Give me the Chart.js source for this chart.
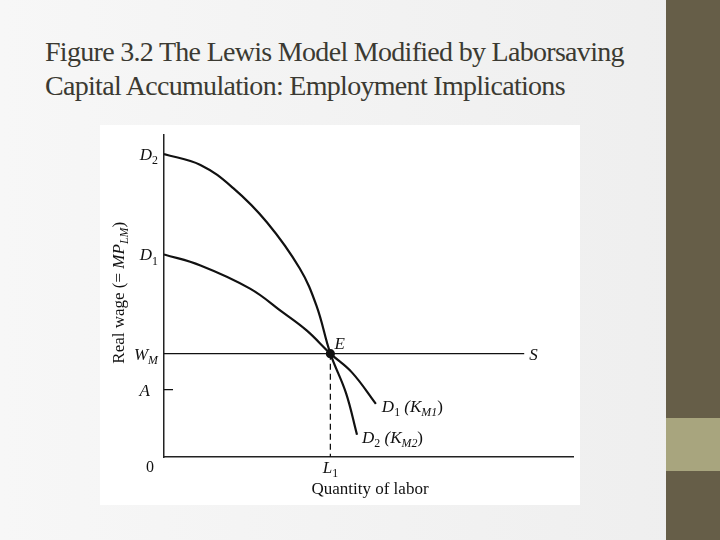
<!DOCTYPE html>
<html>
<head>
<meta charset="utf-8">
<script src="https://cdn.jsdelivr.net/npm/chart.js@4/dist/chart.umd.min.js"></script>
<style>
  body { margin: 0; width: 720px; height: 540px; overflow: hidden;
         background: linear-gradient(90deg, #f7f7f7, #eeeeee); position: relative; }
  #title { position: absolute; left: 45px; top: 35px; font-family: "Liberation Serif", serif;
           font-size: 28px; line-height: 34px; color: #3b3a32; letter-spacing: -0.7px; }
  #band { position: absolute; left: 666px; top: 0; width: 54px; height: 540px; background: #665e48; }
  #band2 { position: absolute; left: 666px; top: 418px; width: 54px; height: 53px; background: #a8a57e; }
  #box { position: absolute; left: 100px; top: 125px; width: 480px; height: 380px; background: #fff; }
</style>
</head>
<body>
<div id="title">Figure 3.2 The Lewis Model Modified by Laborsaving<br>Capital Accumulation: Employment Implications</div>
<div id="band"></div><div id="band2"></div>
<div id="box"><canvas id="c" width="480" height="380"></canvas></div>
<script>
// --- dane (skala 0-100 na obu osiach) ---
const d2X = [0, 8.9, 16.9, 25.1, 33.1, 37.2, 40.6, 44.4, 47.1];
const d2Y = [94.1, 90.7, 83.5, 72.9, 58.6, 47.0, 32.1, 19.9, 6.9];
const d1X = [0, 8.9, 21.0, 29.0, 34.8, 40.6, 45.9, 51.7];
const d1Y = [62.9, 59.5, 52.3, 44.9, 39.3, 32.1, 26.2, 16.5];
const wageM = 32.1;
const levelA = 20.9;
const laborL1 = 40.6;
const supplyEnd = 87.9;

const pts = (xs, ys) => xs.map((x, i) => ({ x: x, y: ys[i] }));
const serif = '"Liberation Serif", serif';

// tekst z indeksem dolnym: [[tekst, czy_indeks, prosty], ...]
function drawParts(ctx, parts, x, y, size, align) {
    let w = 0;
    parts.forEach(p => {
        ctx.font = (p[2] ? '' : 'italic ') + (p[1] ? size * 0.7 : size) + 'px ' + serif;
        w += ctx.measureText(p[0]).width;
    });
    let cx = align === 'right' ? x - w : (align === 'center' ? x - w / 2 : x);
    ctx.textAlign = 'left';
    ctx.textBaseline = 'alphabetic';
    parts.forEach(p => {
        ctx.font = (p[2] ? '' : 'italic ') + (p[1] ? size * 0.7 : size) + 'px ' + serif;
        ctx.fillText(p[0], cx, y + (p[1] ? size * 0.25 : 0));
        cx += ctx.measureText(p[0]).width;
    });
}

const labelsPlugin = {
    id: 'labels',
    afterDraw(chart) {
        const ctx = chart.ctx, xs = chart.scales.x, ys = chart.scales.y;
        const X = v => xs.getPixelForValue(v), Y = v => ys.getPixelForValue(v);
        ctx.save();
        ctx.fillStyle = '#111';
        const lx = X(0) - 6;
        drawParts(ctx, [['D'], ['2', 1, 1]], lx, Y(d2Y[0]) + 6, 17, 'right');
        drawParts(ctx, [['D'], ['1', 1, 1]], lx, Y(d1Y[0]) + 6, 17, 'right');
        drawParts(ctx, [['W'], ['M', 1]], lx, Y(wageM) + 6, 17, 'right');
        drawParts(ctx, [['A']], lx - 8, Y(levelA) + 6, 17, 'right');
        drawParts(ctx, [['0', 0, 1]], lx - 4, Y(0) + 15, 16, 'right');
        drawParts(ctx, [['L'], ['1', 1, 1]], X(laborL1), Y(0) + 16, 17, 'center');
        drawParts(ctx, [['E']], X(laborL1) + 4, Y(wageM) - 5, 17, 'left');
        drawParts(ctx, [['S']], X(supplyEnd) + 5, Y(wageM) + 6, 17, 'left');
        drawParts(ctx, [['D'], ['1', 1, 1], [' (K', 0], ['M1', 1], [')', 0, 1]], X(d1X[d1X.length - 1]) + 6, Y(d1Y[d1Y.length - 1]) + 8, 17, 'left');
        drawParts(ctx, [['D'], ['2', 1, 1], [' (K', 0], ['M2', 1], [')', 0, 1]], X(d2X[d2X.length - 1]) + 5, Y(d2Y[d2Y.length - 1]) + 8, 17, 'left');
        // tytuły osi
        ctx.font = '17px ' + serif;
        ctx.textAlign = 'center';
        ctx.fillText('Quantity of labor', 270, Y(0) + 37);
        ctx.translate(X(0) - 40, Y(51));
        ctx.rotate(-Math.PI / 2);
        drawParts(ctx, [['Real wage (= ', 0, 1], ['MP'], ['LM', 1], [')', 0, 1]], 0, 0, 17, 'center');
        ctx.restore();
    }
};

const line = (data, extra) => Object.assign({
    data: data, borderColor: '#111', borderWidth: 2.2, pointRadius: 0,
    fill: false, showLine: true
}, extra || {});

new Chart(document.getElementById('c'), {
    type: 'scatter',
    data: {
        datasets: [
            line(pts(d2X, d2Y), { tension: 0.4 }),
            line(pts(d1X, d1Y), { tension: 0.4 }),
            line([{ x: 0, y: wageM }, { x: supplyEnd, y: wageM }], { borderWidth: 1.3 }),
            line([{ x: laborL1, y: wageM }, { x: laborL1, y: 0 }], { borderWidth: 1.3, borderDash: [6, 4] }),
            line([{ x: 0, y: levelA }, { x: 2.2, y: levelA }], { borderWidth: 1.3 }),
            line([{ x: laborL1, y: wageM }], { pointRadius: 3.5, pointBackgroundColor: '#111', showLine: false })
        ]
    },
    options: {
        responsive: false,
        animation: false,
        layout: { padding: { left: 56, top: 10, right: 3, bottom: 40 } },
        plugins: { legend: { display: false }, tooltip: { enabled: false } },
        scales: {
            x: { type: 'linear', min: 0, max: 100, grid: { display: false }, ticks: { display: false },
                 border: { color: '#222', width: 1.5 } },
            y: { type: 'linear', min: 0, max: 100, grid: { display: false }, ticks: { display: false },
                 border: { color: '#222', width: 1.5 } }
        }
    },
    plugins: [labelsPlugin]
});
</script>
</body>
</html>
